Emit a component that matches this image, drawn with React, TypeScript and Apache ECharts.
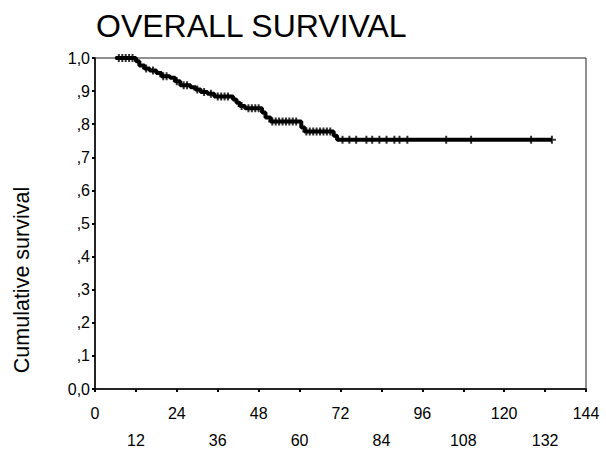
import React, { useEffect, useRef } from "react";
import * as echarts from "echarts";

const eventTimes = [6, 12, 13, 14.5, 16, 18, 19.5, 22, 23.5, 25, 28, 29.5, 31, 33, 35, 40.5, 41.5, 42.5, 44, 49, 50, 51.5, 60.5, 61.5, 70, 71, 134];
const survival = [1.0, 0.99, 0.977, 0.968, 0.962, 0.955, 0.945, 0.94, 0.93, 0.918, 0.912, 0.905, 0.897, 0.892, 0.884, 0.875, 0.865, 0.855, 0.848, 0.835, 0.82, 0.808, 0.79, 0.778, 0.765, 0.753, 0.753];
const censoredTimes = [7, 8, 9, 10, 11, 15, 17, 20, 21, 24, 26, 27, 30, 32, 34, 36, 37, 38, 39, 43, 45, 46, 47, 48, 52, 53, 54, 55, 56, 57, 58, 59, 62, 63, 64, 65, 66, 67, 68, 69, 72.6, 74.6, 76.6, 79.6, 81.3, 83.4, 85.5, 87.8, 89.3, 91.6, 103, 110.3, 127.9, 134];
const xTicks = [0, 12, 24, 36, 48, 60, 72, 84, 96, 108, 120, 132, 144];
const yTicks = ["0,0", ",1", ",2", ",3", ",4", ",5", ",6", ",7", ",8", ",9", "1,0"];

const FONT = "Liberation Sans, Arial, sans-serif";

function survAt(t: number): number {
  let s = survival[0];
  for (let i = 0; i < eventTimes.length; i++) {
    if (eventTimes[i] <= t) s = survival[i];
  }
  return s;
}

export default function App() {
  const ref = useRef<HTMLDivElement>(null);
  useEffect(() => {
    if (!ref.current) return;
    const chart = echarts.init(ref.current, undefined, { renderer: "svg" });
    const lineData = eventTimes.map((t, i) => [t, survival[i]]);
    const censData = censoredTimes.map((t) => [t, survAt(t)]);
    chart.setOption({
      animation: false,
      backgroundColor: "#fff",
      grid: { left: 95, right: 20, top: 58, bottom: 55, show: true, borderColor: "#222", borderWidth: 1 },
      graphic: [
        {
          type: "text",
          left: 96,
          top: 10,
          style: { text: "OVERALL SURVIVAL", font: `32px ${FONT}`, fill: "#000" },
        },
        {
          type: "text",
          x: 22,
          y: 280,
          rotation: Math.PI / 2,
          style: { text: "Cumulative survival", font: `21.5px ${FONT}`, fill: "#000", align: "center", verticalAlign: "middle" },
        },
      ],
      xAxis: {
        type: "value",
        min: 0,
        max: 144,
        interval: 12,
        splitLine: { show: false },
        axisLine: { show: true, lineStyle: { color: "#000", width: 1.5 } },
        axisTick: { show: true, length: 3, lineStyle: { color: "#000", width: 2 } },
        axisLabel: {
          color: "#000",
          fontFamily: FONT,
          fontSize: 16,
          margin: 11,
          lineHeight: 27,
          showMaxLabel: true,
          formatter: (v: number) => {
            const idx = xTicks.indexOf(v);
            if (idx < 0) return "";
            return idx % 2 === 0 ? String(v) : "\n" + String(v);
          },
        },
      },
      yAxis: {
        type: "value",
        min: 0,
        max: 1,
        interval: 0.1,
        splitLine: { show: false },
        axisLine: { show: true, lineStyle: { color: "#000", width: 1.5 } },
        axisTick: { show: true, length: 3, lineStyle: { color: "#000", width: 2 } },
        axisLabel: {
          color: "#000",
          fontFamily: FONT,
          fontSize: 16,
          margin: 5,
          formatter: (v: number) => yTicks[Math.round(v * 10)] ?? "",
        },
      },
      series: [
        {
          type: "line",
          step: "end",
          data: lineData,
          showSymbol: false,
          symbol: "none",
          lineStyle: { color: "#000", width: 4 },
          z: 3,
        },
        {
          type: "scatter",
          data: censData,
          symbol: "path://M-1,-4H1V-1H4V1H1V4H-1V1H-4V-1H-1Z",
          symbolSize: 8,
          itemStyle: { color: "#000" },
          z: 4,
        },
      ],
    });
    return () => chart.dispose();
  }, []);
  return <div ref={ref} style={{ position: "fixed", left: 0, top: 0, width: 606, height: 454 }} />;
}
